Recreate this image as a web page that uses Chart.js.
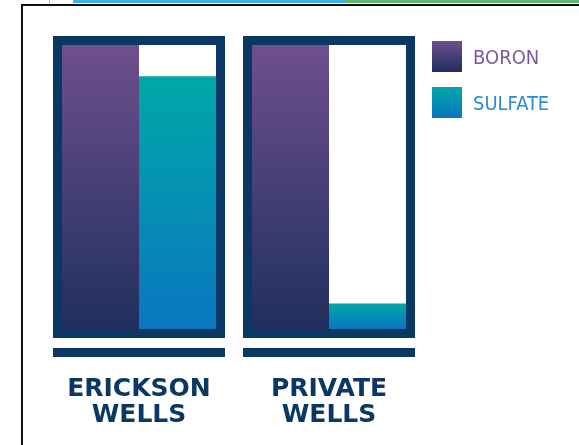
<!DOCTYPE html>
<html lang="en">
<head>
<meta charset="UTF-8">
<title>Boron and Sulfate</title>
<script src="https://cdn.jsdelivr.net/npm/chart.js"></script>
<style>
    body { margin: 0; background: #fff; font-family: "DejaVu Sans Condensed", "DejaVu Sans", sans-serif; }
    .page { position: relative; width: 579px; height: 445px; overflow: hidden; }
    .strip-blue { position: absolute; left: 73px; top: 0; width: 272px; height: 3px; background: #3cb3e4; }
    .strip-green { position: absolute; left: 345px; top: 0; width: 234px; height: 3px; background: #5db872; }
    .strip-gray { position: absolute; left: 49px; top: 0; width: 1px; height: 4px; background: #bbb; }
    .frame-top { position: absolute; left: 21px; top: 4px; width: 558px; height: 2px; background: #111; }
    .frame-left { position: absolute; left: 21px; top: 4px; width: 2px; height: 441px; background: #111; }
    /* canvas runs past the bottom edge so the plot sits where the reference has it */
    .chart-box { position: absolute; left: 0; top: 0; width: 579px; height: 476px; }
    .legend { position: absolute; left: 432px; top: 41px; }
    .legend-item { display: flex; align-items: center; height: 31px; margin-bottom: 15px; }
    .legend-item .sw { width: 30px; height: 31px; margin-right: 11px; }
    .legend-item span { font-size: 20px; font-stretch: condensed; }
</style>
</head>
<body>
<div class="page">
    <div class="strip-gray"></div>
    <div class="strip-blue"></div>
    <div class="strip-green"></div>
    <div class="frame-top"></div>
    <div class="frame-left"></div>
    <div class="chart-box"><canvas id="wellsChart"></canvas></div>
    <div class="legend" id="legend"></div>
</div>

<script>
const wells = [['ERICKSON', 'WELLS'], ['PRIVATE', 'WELLS']];
const boron = [100, 100];
const sulfate = [89, 9];

const navy = '#0b3764';
const boronColors = ['#6f4f8d', '#1f2f5e'];
const sulfateColors = ['#00a8a8', '#0a76c0'];
const legendText = ['#7a5a9c', '#2a8ad2'];

// vertical gradient from the top of each bar down to the zero line
function barGradient(colors) {
    return function(ctx) {
        const chart = ctx.chart;
        if (!chart.chartArea) return colors[0];
        const y = chart.scales.y;
        const top = y.getPixelForValue(ctx.raw);
        const bottom = y.getPixelForValue(0);
        const g = chart.ctx.createLinearGradient(0, top, 0, bottom);
        g.addColorStop(0, colors[0]);
        g.addColorStop(1, colors[1]);
        return g;
    };
}

// navy frame around each group plus the thick rule under it
const framePlugin = {
    id: 'frames',
    afterDatasetsDraw(chart) {
        const c = chart.ctx;
        const y = chart.scales.y;
        const top = y.getPixelForValue(100);
        const bottom = y.getPixelForValue(0);
        const m0 = chart.getDatasetMeta(0).data;
        const m1 = chart.getDatasetMeta(1).data;
        c.save();
        c.strokeStyle = navy;
        c.fillStyle = navy;
        c.lineWidth = 9;
        m0.forEach((bar, i) => {
            const left = bar.x - bar.width / 2;
            const right = m1[i].x + m1[i].width / 2;
            c.strokeRect(left - 4.5, top - 4.5, right - left + 9, bottom - top + 9);
            c.fillRect(left - 9, bottom + 19, right - left + 18, 9);
        });
        c.restore();
    }
};

const chart = new Chart(document.getElementById('wellsChart'), {
    type: 'bar',
    data: {
        labels: wells,
        datasets: [
            { label: 'BORON', data: boron, backgroundColor: barGradient(boronColors), borderWidth: 0 },
            { label: 'SULFATE', data: sulfate, backgroundColor: barGradient(sulfateColors), borderWidth: 0 }
        ]
    },
    options: {
        responsive: true,
        maintainAspectRatio: false,
        animation: false,
        layout: { padding: { left: 44, right: 155, top: 45, bottom: 0 } },
        datasets: { bar: { categoryPercentage: 154 / 190, barPercentage: 1 } },
        plugins: { legend: { display: false }, tooltip: { enabled: false } },
        scales: {
            x: {
                grid: { display: false, drawTicks: false },
                border: { display: false },
                ticks: {
                    padding: 48,
                    color: navy,
                    font: { family: 'DejaVu Sans', weight: 'bold', size: 25, lineHeight: 1.02 }
                }
            },
            y: { display: false, min: 0, max: 100 }
        }
    },
    plugins: [framePlugin]
});

// html legend built from the datasets
const swatches = [boronColors, sulfateColors];
document.getElementById('legend').innerHTML = chart.data.datasets.map((ds, i) =>
    `<div class="legend-item"><div class="sw" style="background:linear-gradient(${swatches[i][0]}, ${swatches[i][1]})"></div>` +
    `<span style="color:${legendText[i]}">${ds.label}</span></div>`
).join('');
</script>
</body>
</html>
